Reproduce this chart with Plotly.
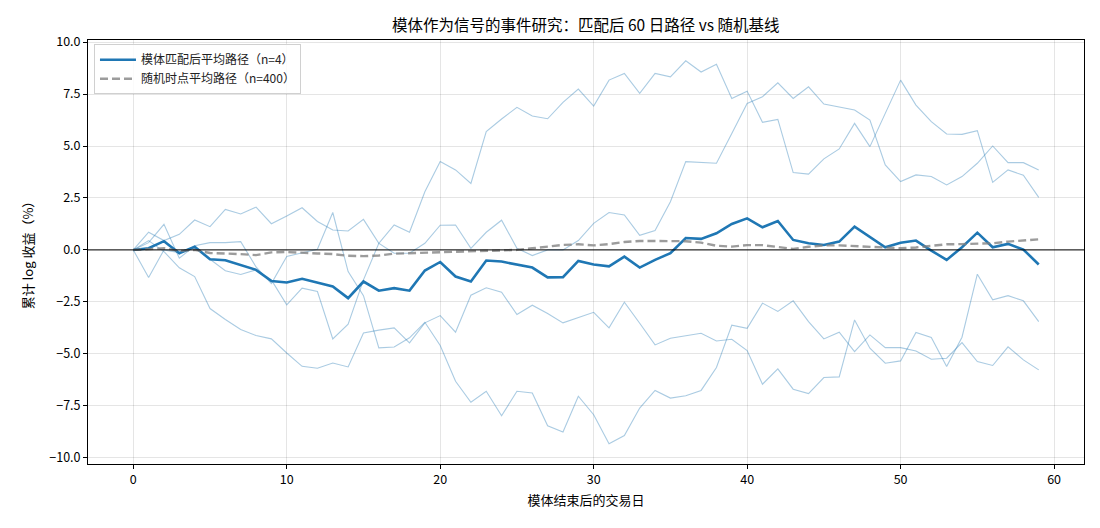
import plotly.graph_objects as go

days = list(range(60))

path_a = [0, 0.85, 0.45, 0.75, 1.44, 1.12, 1.95, 1.73, 2.06, 1.26, 1.63, 2.03, 1.37, 0.96, 0.91, 1.47, 0.32,
          1.2, 0.85, 2.8, 4.25, 3.85, 3.2, 5.69, 6.3, 6.86, 6.44, 6.31, 7.1, 7.74, 6.92, 8.17,
          8.49, 7.53, 8.49, 8.33, 9.1, 8.56, 8.93, 7.29, 7.64, 6.14, 6.28, 3.72, 3.65, 4.38, 4.86,
          6.09, 4.97, 6.57, 8.17, 6.97, 6.17, 5.58, 5.56, 5.74, 3.25, 3.85, 3.59, 2.53]
path_b = [0, -1.33, 0.0, -0.13, 0.16, -0.45, -1.0, -1.18, -0.96, -1.44, -2.64, -1.84, -2.0, -4.28, -3.57, -1.44, 0.32,
          -0.16, -0.16, 0.32, 1.19, 1.2, 0.08, 0.85, 1.43, 0.08, -0.27, 0.0, 0.0, 0.45, 1.28, 1.8,
          1.68, 0.7, 0.93, 2.32, 4.25, 4.21, 4.17, 5.6, 7.05, 7.37, 8.04, 7.29, 7.85, 7.02, 6.89,
          6.73, 6.25, 4.09, 3.29, 3.61, 3.53, 3.13, 3.53, 4.17, 5.0, 4.2, 4.2, 3.85]
path_c = [0, 0.45, -0.08, -0.86, -1.28, -2.82, -3.35, -3.83, -4.12, -4.28, -4.96, -5.6, -5.69, -5.44, -5.63, -4.0, -3.86,
          -3.75, -4.47, -3.51, -3.16, -3.96, -2.18, -1.82, -2.03, -3.11, -2.66, -3.06, -3.51, -3.27, -3.0, -3.75,
          -2.52, -3.53, -4.57, -4.25, -4.12, -4.01, -4.38, -4.3, -4.84, -6.46, -5.72, -6.7, -6.91, -6.14, -6.11,
          -3.37, -4.73, -5.45, -5.34, -3.97, -4.21, -5.61, -4.2, -1.17, -2.4, -2.2, -2.45, -3.45]
path_d = [0, 0.35, 1.23, -0.4, 0.2, 0.35, 0.35, 0.4, -0.82, -1.62, -0.31, -0.15, 0.03, 1.8, -1.04, -2.2, -4.71,
          -4.67, -4.23, -3.48, -4.6, -6.32, -7.33, -6.8, -7.98, -6.8, -6.88, -8.46, -8.76, -7.04, -7.93, -9.33,
          -8.93, -7.61, -6.76, -7.13, -7.02, -6.76, -5.66, -3.62, -3.77, -2.56, -2.96, -2.45, -3.45, -4.28, -3.96,
          -4.89, -4.09, -4.7, -4.7, -4.86, -5.26, -5.21, -4.46, -5.37, -5.56, -4.66, -5.29, -5.77]

mean_path = [0, 0.08, 0.42, -0.16, 0.15, -0.45, -0.5, -0.72, -0.96, -1.5, -1.57, -1.39, -1.57, -1.76, -2.32, -1.52,
             -1.96, -1.84, -1.96, -0.99, -0.58, -1.28, -1.52, -0.51, -0.56, -0.72, -0.85, -1.32, -1.31, -0.53,
             -0.7, -0.79, -0.32, -0.85, -0.48, -0.16, 0.57, 0.53, 0.8, 1.25, 1.52, 1.09, 1.39, 0.48, 0.32,
             0.24, 0.4, 1.12, 0.64, 0.13, 0.35, 0.45, -0.03, -0.48, 0.13, 0.83, 0.13, 0.29, 0.02, -0.7]

baseline_path = [0, 0.05, 0.08, -0.05, 0.0, -0.15, -0.17, -0.2, -0.25, -0.12, -0.1, -0.15, -0.17, -0.2, -0.28,
                 -0.3, -0.27, -0.18, -0.16, -0.12, -0.1, -0.1, -0.05, -0.05, -0.03, 0.0, 0.08, 0.15, 0.24, 0.27,
                 0.22, 0.28, 0.38, 0.43, 0.43, 0.42, 0.42, 0.35, 0.2, 0.16, 0.23, 0.23, 0.13, 0.05, 0.15,
                 0.22, 0.22, 0.18, 0.15, 0.1, 0.08, 0.12, 0.18, 0.27, 0.28, 0.29, 0.32, 0.4, 0.45, 0.51]

y_ticks = [-10.0, -7.5, -5.0, -2.5, 0.0, 2.5, 5.0, 7.5, 10.0]
x_ticks = [0, 10, 20, 30, 40, 50, 60]

FONT = "Noto Sans CJK SC"
BLUE = "#1f77b4"

fig = go.Figure()
for p in [path_a, path_b, path_c, path_d]:
    fig.add_trace(go.Scatter(x=days, y=p, mode="lines", showlegend=False, hoverinfo="skip",
                             line=dict(color="rgba(31,119,180,0.38)", width=1.1)))

fig.add_trace(go.Scatter(x=days, y=mean_path, mode="lines", name="模体匹配后平均路径（n=4）",
                         line=dict(color=BLUE, width=2.6)))
fig.add_trace(go.Scatter(x=days, y=baseline_path, mode="lines", name="随机时点平均路径（n=400）",
                         line=dict(color="rgba(128,128,128,0.78)", width=2.4, dash="8px,4px")))

fig.add_shape(type="line", xref="paper", x0=0, x1=1, yref="y", y0=0, y1=0,
              line=dict(color="black", width=1), layer="above")

def fmt(v):
    s = f"{v:.1f}"
    return s.replace("-", "−")

fig.update_layout(
    width=1100, height=528,
    margin=dict(l=88, r=16, t=40, b=64),
    paper_bgcolor="white", plot_bgcolor="white",
    font=dict(family=FONT, size=13, color="black"),
    title=dict(text="模体作为信号的事件研究：匹配后 60 日路径 vs 随机基线",
               x=0.5325, xanchor="center", y=0.952, yanchor="middle",
               font=dict(family=FONT, size=15.5, color="black")),
    legend=dict(x=0.006, y=0.99, xanchor="left", yanchor="top",
                bgcolor="rgba(255,255,255,0.85)", bordercolor="#d0d0d0", borderwidth=1,
                font=dict(family=FONT, size=12, color="#222"), tracegroupgap=0,
                itemwidth=36),
    showlegend=True,
)
fig.update_xaxes(range=[-2.95, 61.95], tickvals=x_ticks, ticktext=[str(v) for v in x_ticks],
                 showgrid=True, gridcolor="rgba(0,0,0,0.1)", gridwidth=1, zeroline=False,
                 showline=True, linecolor="black", linewidth=1, mirror=True,
                 ticks="outside", ticklen=4, tickcolor="black",
                 tickfont=dict(family=FONT, size=12.5),
                 title=dict(text="模体结束后的交易日", font=dict(family=FONT, size=13), standoff=8))
fig.update_yaxes(range=[-10.3, 10.1], tickvals=y_ticks, ticktext=[fmt(v) for v in y_ticks],
                 showgrid=True, gridcolor="rgba(0,0,0,0.1)", gridwidth=1, zeroline=False,
                 showline=True, linecolor="black", linewidth=1, mirror=True,
                 ticks="outside", ticklen=4, tickcolor="black",
                 tickfont=dict(family=FONT, size=12.5),
                 title=dict(text="累计 log 收益（%）", font=dict(family=FONT, size=13), standoff=12))

fig.write_html("out.html")
